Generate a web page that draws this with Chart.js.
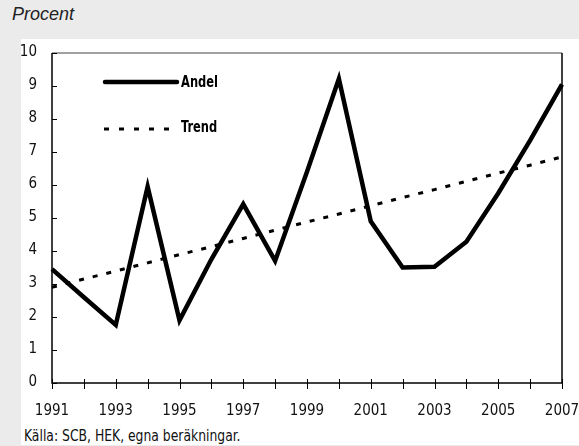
<!DOCTYPE html>
<html>
<head>
<meta charset="utf-8">
<script src="https://cdn.jsdelivr.net/npm/chart.js@4.4.0/dist/chart.umd.min.js"></script>
<style>
  body { margin:0; width:579px; height:446px; background:#ebebeb; position:relative; overflow:hidden; }
  #titel { position:absolute; left:12px; top:4px; font:italic 18px "Liberation Sans", Arial, sans-serif; color:#222; }
  #panel { position:absolute; left:21px; top:39px; width:558px; height:406px; background:#fff; }
  #wrap { position:absolute; left:0; top:0; width:558px; height:380px; }
  #kalla { position:absolute; left:3px; top:387px; font:16px "Liberation Sans Narrow", "DejaVu Sans Condensed", sans-serif; color:#111; transform:scaleX(0.86); transform-origin:left top; white-space:nowrap; }
</style>
</head>
<body>
<div id="titel">Procent</div>
<div id="panel">
  <div id="wrap"><canvas id="graf"></canvas></div>
  <div id="kalla">Källa: SCB, HEK, egna beräkningar.</div>
</div>
<script>
let years = [1991,1992,1993,1994,1995,1996,1997,1998,1999,2000,2001,2002,2003,2004,2005,2006,2007];
let andel = [3.45,2.6,1.76,5.95,1.9,3.75,5.42,3.7,6.4,9.22,4.9,3.5,3.52,4.28,5.75,7.35,9.05];
let trend = [2.9,3.15,3.39,3.64,3.89,4.13,4.38,4.63,4.88,5.12,5.37,5.62,5.86,6.11,6.36,6.6,6.85];
let yTicks = [0,1,2,3,4,5,6,7,8,9,10];

let narrow = '"Liberation Sans Narrow", "DejaVu Sans Condensed", sans-serif';

// ramar, tickmarks, y-etiketter och legend
let ritaExtra = {
  id: "ritaExtra",
  afterDatasetsDraw(c) {
    let ctx = c.ctx, a = c.chartArea, x = c.scales.x, y = c.scales.y;
    ctx.save();
    ctx.lineWidth = 1.5;
    ctx.strokeStyle = "#808080";
    ctx.beginPath(); ctx.moveTo(a.left, a.top); ctx.lineTo(a.right, a.top); ctx.stroke();
    ctx.strokeStyle = "#000";
    ctx.beginPath();
    ctx.moveTo(a.right, a.top); ctx.lineTo(a.right, a.bottom);
    ctx.moveTo(a.left, a.top); ctx.lineTo(a.left, a.bottom); ctx.lineTo(a.right, a.bottom);
    ctx.stroke();
    ctx.lineWidth = 1;
    ctx.beginPath();
    years.forEach((yr, i) => {
      let px = Math.round(x.getPixelForValue(i)) + 0.5;
      ctx.moveTo(px, a.bottom - 4); ctx.lineTo(px, a.bottom + 6);
    });
    yTicks.forEach(v => {
      let py = Math.round(y.getPixelForValue(v)) + 0.5;
      ctx.moveTo(a.left, py); ctx.lineTo(a.left + 5, py);
    });
    ctx.stroke();

    ctx.fillStyle = "#111";
    ctx.font = "15px " + narrow;
    ctx.textAlign = "right";
    ctx.textBaseline = "middle";
    yTicks.forEach(v => {
      ctx.fillText(String(v), a.left - 15, y.getPixelForValue(v) - 1);
    });
    ctx.textAlign = "left";

    // legend
    ctx.lineWidth = 4.5;
    ctx.lineCap = "round";
    ctx.beginPath(); ctx.moveTo(84, 43); ctx.lineTo(156, 43); ctx.stroke();
    ctx.lineCap = "butt";
    ctx.lineWidth = 3;
    ctx.setLineDash([5, 10]);
    ctx.beginPath(); ctx.moveTo(83, 90); ctx.lineTo(156, 90); ctx.stroke();
    ctx.setLineDash([]);
    ctx.fillStyle = "#000";
    ctx.font = "bold 15px " + narrow;
    ctx.translate(160, 0);
    ctx.scale(0.85, 1);
    ctx.fillText("Andel", 0, 44);
    ctx.fillText("Trend", 0, 89);
    ctx.restore();
  }
};

new Chart(document.getElementById("graf"), {
  type: "line",
  data: {
    labels: years,
    datasets: [
      { label: "Andel", data: andel, borderColor: "#000", borderWidth: 4.5, pointRadius: 0, tension: 0, borderJoinStyle: "miter" },
      { label: "Trend", data: trend, borderColor: "#000", borderWidth: 3, borderDash: [5, 9], pointRadius: 0, tension: 0 }
    ]
  },
  options: {
    responsive: true,
    maintainAspectRatio: false,
    animation: false,
    layout: { padding: { top: 14, right: 17, left: 0, bottom: 0 } },
    plugins: { legend: { display: false }, tooltip: { enabled: false } },
    scales: {
      x: {
        offset: false,
        grid: { display: false, drawTicks: false },
        border: { display: false },
        ticks: {
          autoSkip: false, maxRotation: 0, padding: 19, color: "#111",
          font: { family: narrow, size: 15 },
          callback: function(v, i) { return i % 2 === 0 ? years[i] : ""; }
        },
        afterFit: s => { s.height = 36; s.paddingLeft = 0; s.paddingRight = 0; }
      },
      y: {
        min: 0, max: 10,
        grid: { display: false, drawTicks: false },
        border: { display: false },
        afterBuildTicks: s => { s.ticks = yTicks.map(v => ({ value: v })); },
        ticks: { display: false },
        afterFit: s => { s.width = 31; s.paddingTop = 0; s.paddingBottom = 0; }
      }
    }
  },
  plugins: [ritaExtra]
});
</script>
</body>
</html>
